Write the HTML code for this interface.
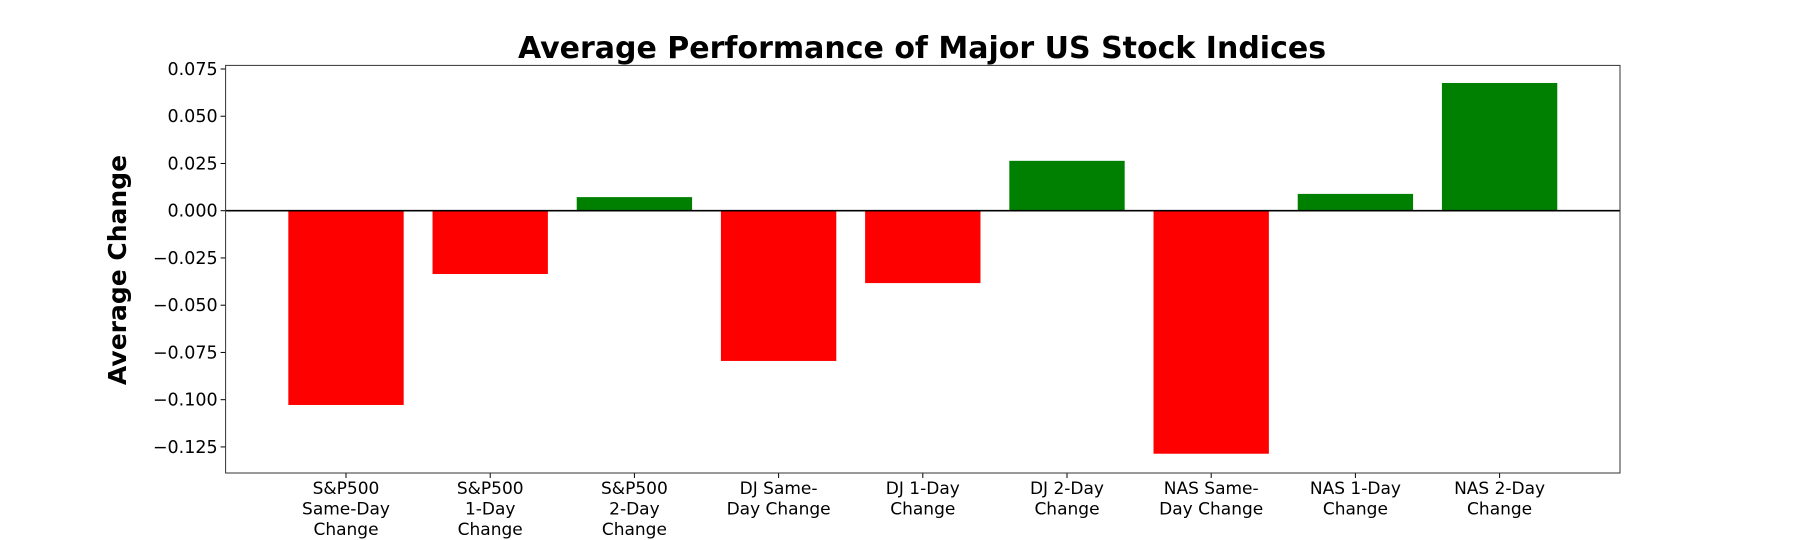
<!DOCTYPE html>
<html><head><meta charset="utf-8"><style>body{margin:0;background:#fff}svg{display:block}text{font-family:"DejaVu Sans","Liberation Sans",sans-serif}</style></head>
<body>
<svg id="chart" width="1800" height="540" viewBox="0 0 1800 540" xmlns="http://www.w3.org/2000/svg">
<text x="922" y="58" text-anchor="middle" font-size="30" font-weight="bold">Average Performance of Major US Stock Indices</text>
<text transform="translate(126,270) rotate(-90)" text-anchor="middle" font-size="25" font-weight="bold">Average Change</text>
<g id="plot"></g>
</svg>
<script>
const categories = [["S&P500","Same-Day","Change"],["S&P500","1-Day","Change"],["S&P500","2-Day","Change"],["DJ Same-","Day Change"],["DJ 1-Day","Change"],["DJ 2-Day","Change"],["NAS Same-","Day Change"],["NAS 1-Day","Change"],["NAS 2-Day","Change"]];
const values = [-0.1028,-0.0335,0.0072,-0.0795,-0.0383,0.0264,-0.1286,0.0089,0.0676];
const yTicks = [0.075,0.05,0.025,0,-0.025,-0.05,-0.075,-0.1,-0.125];
const yTickLabels = ["0.075","0.050","0.025","0.000","\u22120.025","\u22120.050","\u22120.075","\u22120.100","\u22120.125"];

const L=225.6,R=1620,T=65.4,B=473;
const xMin=-0.835,xMax=8.835,yMin=-0.1388,yMax=0.0769;
const xs=v=>L+(v-xMin)/(xMax-xMin)*(R-L);
const ys=v=>B-(v-yMin)/(yMax-yMin)*(B-T);
const NS="http://www.w3.org/2000/svg";
const g=document.getElementById('plot');
function mk(tag,attrs){const e=document.createElementNS(NS,tag);for(const k in attrs)e.setAttribute(k,attrs[k]);g.appendChild(e);return e;}
const bw=xs(0.4)-xs(-0.4);
values.forEach((v,i)=>{
  const r=mk('rect',{x:xs(i)-bw/2,y:Math.min(ys(v),ys(0)),width:bw,height:Math.abs(ys(v)-ys(0)),fill:v<0?'#ff0000':'#008000'});
  
  
  const t=mk('line',{x1:xs(i),x2:xs(i),y1:B,y2:B+5,stroke:'#000','stroke-width':1});
  
  
  const tx=mk('text',{x:xs(i),'text-anchor':'middle','font-size':17});
  
  
  categories[i].forEach((s,j)=>{const ts=document.createElementNS(NS,'tspan');ts.setAttribute('x',xs(i));ts.setAttribute('y',494+j*20.6);ts.textContent=s;tx.appendChild(ts);});
});
yTicks.forEach((v,i)=>{
  const t=mk('line',{x1:L-5,x2:L,y1:ys(v),y2:ys(v),stroke:'#000','stroke-width':1});
  
  
  const tx=mk('text',{x:L-8,y:ys(v)+6,'text-anchor':'end','font-size':17.5});
  
  
  tx.textContent=yTickLabels[i];
});
const z=mk('line',{x1:L,x2:R,y1:ys(0),y2:ys(0),stroke:'#000','stroke-width':1.6});


const f=mk('rect',{x:L,y:T,width:R-L,height:B-T,fill:'none',stroke:'#333','stroke-width':1});


</script>
</body></html>
